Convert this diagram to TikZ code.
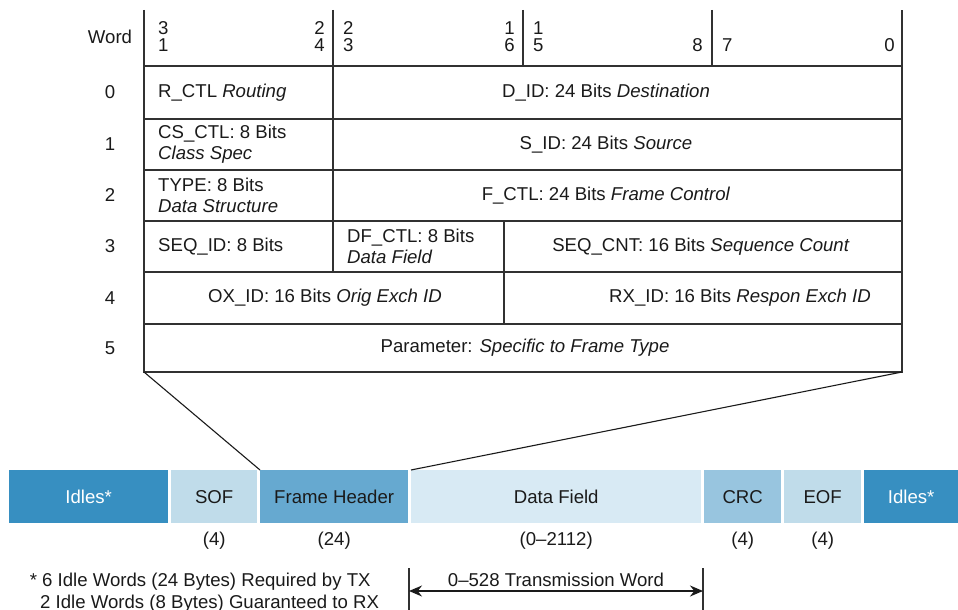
\documentclass[tikz,border=0pt]{standalone}
\usepackage{fontspec}
\setmainfont{Liberation Sans}
\usetikzlibrary{arrows.meta,positioning}
\definecolor{fcidle}{HTML}{378FC1}
\definecolor{fcsof}{HTML}{C0DCEA}
\definecolor{fchdr}{HTML}{66A9D0}
\definecolor{fcdata}{HTML}{D8EAF4}
\definecolor{fccrc}{HTML}{98C5DF}
\definecolor{fcink}{HTML}{1A1A1A}
\tikzset{
  fc/.style={font=\fontsize{18.6}{21}\selectfont, text=fcink},
  fcrule/.style={line width=1.4pt, draw=fcink!90},
  fcfan/.style={line width=1.1pt, draw=fcink},
  fcbit/.style={inner sep=0pt, anchor=base, align=center, font=\fontsize{18.6}{17}\selectfont},
  fcfld/.style={inner sep=0pt, align=center},
  fcfldl/.style={inner sep=0pt, anchor=west, align=left},
  fcseg/.style={minimum height=53pt, inner sep=0pt, anchor=north west},
  fccnt/.style={inner sep=0pt},
  fcarr/.style={{Stealth[length=13pt,width=11pt]}-{Stealth[length=13pt,width=11pt]}, line width=1.4pt, draw=fcink},
}

\begin{document}
\begin{tikzpicture}[fc, x=1pt, y=-1pt]
  \useasboundingbox (0,0) rectangle (958,610);
  % frame header table
  \draw[fcrule] (144,10) -- (144,372) -- (902,372) -- (902,10);
  \foreach \y in {66,119,170,221,272,324}
    \draw[fcrule] (144,\y) -- (902,\y);
  \foreach \x in {333,523,712}
    \draw[fcrule] (\x,10) -- (\x,66);
  \draw[fcrule] (333,66) -- (333,272);
  \draw[fcrule] (504,221) -- (504,324);
  \coordinate (tblsw) at (144,372);
  \coordinate (tblse) at (902,372);

  % bit numbers
  \node[fcbit] (word) at (110,44) {Word};
  \node[fcbit, anchor=base west] (b31) at (158,52) {3\\1};
  \node[fcbit, anchor=base east] (b24) at (325,52) {2\\4};
  \node[fcbit, anchor=base west] (b23) at (343,52) {2\\3};
  \node[fcbit, anchor=base east] (b16) at (515,52) {1\\6};
  \node[fcbit, anchor=base west] (b15) at (533,52) {1\\5};
  \node[fcbit, anchor=base east] (b8) at (703,52) {8};
  \node[fcbit, anchor=base west] (b7) at (722,52) {7};
  \node[fcbit, anchor=base east] (b0) at (895,52) {0};

  % word numbers
  \foreach \w/\y in {0/92.5,1/144.5,2/195.5,3/246.5,4/298,5/348}
    \node[fcfld] (w\w) at (110,\y) {\w};

  % fields
  \node[fcfldl] (rctl) at (158,92.5) {R\_CTL \textit{Routing}};
  \node[fcfld] (did) at (606,92.5) {D\_ID: 24 Bits \textit{Destination}};
  \node[fcfldl] (csctl) at (158,144.5) {CS\_CTL: 8 Bits\\\textit{Class Spec}};
  \node[fcfld] (sid) at (606,144.5) {S\_ID: 24 Bits \textit{Source}};
  \node[fcfldl] (type) at (158,195.5) {TYPE: 8 Bits\\\textit{Data Structure}};
  \node[fcfld] (fctl) at (606,195.5) {F\_CTL: 24 Bits \textit{Frame Control}};
  \node[fcfldl] (seqid) at (158,246.5) {SEQ\_ID: 8 Bits};
  \node[fcfldl] (dfctl) at (347,246.5) {DF\_CTL: 8 Bits\\\textit{Data Field}};
  \node[fcfld] (seqcnt) at (701,246.5) {SEQ\_CNT: 16 Bits \textit{Sequence Count}};
  \node[fcfld] (oxid) at (325,298) {OX\_ID: 16 Bits \textit{Orig Exch ID}};
  \node[fcfld] (rxid) at (740,298) {RX\_ID: 16 Bits \textit{Respon Exch ID}};
  \node[fcfld] (param) at (525,348) {Parameter: \textit{Specific to Frame Type}};

  % frame on the link
  \node[fcseg, fill=fcidle, text=white, minimum width=159pt] (idlel) at (9,470) {Idles*};
  \node[fcseg, fill=fcsof, minimum width=86pt] (sof) at (171,470) {SOF};
  \node[fcseg, fill=fchdr, minimum width=148pt] (hdr) at (260,470) {Frame Header};
  \node[fcseg, fill=fcdata, minimum width=290pt] (data) at (411,470) {Data Field};
  \node[fcseg, fill=fccrc, minimum width=77pt] (crc) at (704,470) {CRC};
  \node[fcseg, fill=fcsof, minimum width=77pt] (eof) at (784,470) {EOF};
  \node[fcseg, fill=fcidle, text=white, minimum width=94pt] (idler) at (864,470) {Idles*};

  \draw[fcfan] (tblsw) -- (hdr.north west);
  \draw[fcfan] (tblse) -- (data.north west);

  \node[fccnt, below=8pt of sof] (sofn) {(4)};
  \node[fccnt, below=8pt of hdr] (hdrn) {(24)};
  \node[fccnt, below=8pt of data] (datan) {(0--2112)};
  \node[fccnt, below=8pt of crc] (crcn) {(4)};
  \node[fccnt, below=8pt of eof] (eofn) {(4)};

  % transmission words
  \coordinate (trl) at (409,568);
  \coordinate (trr) at (703,568);
  \draw[fcrule] (trl) -- ++(0,42);
  \draw[fcrule] (trr) -- ++(0,42);
  \coordinate (tal) at (409,591);
  \coordinate (tar) at (703,591);
  \draw[fcarr] (tal) -- node[above=4pt, inner sep=0pt] (trw) {0--528 Transmission Word} (tar);

  % footnote
  \node[inner sep=0pt, anchor=base west] (fna) at (42,586) {\llap{*\ }6 Idle Words (24 Bytes) Required by TX};
  \node[inner sep=0pt, anchor=base west] (fnb) at (40,608) {2 Idle Words (8 Bytes) Guaranteed to RX};
\end{tikzpicture}
\end{document}
